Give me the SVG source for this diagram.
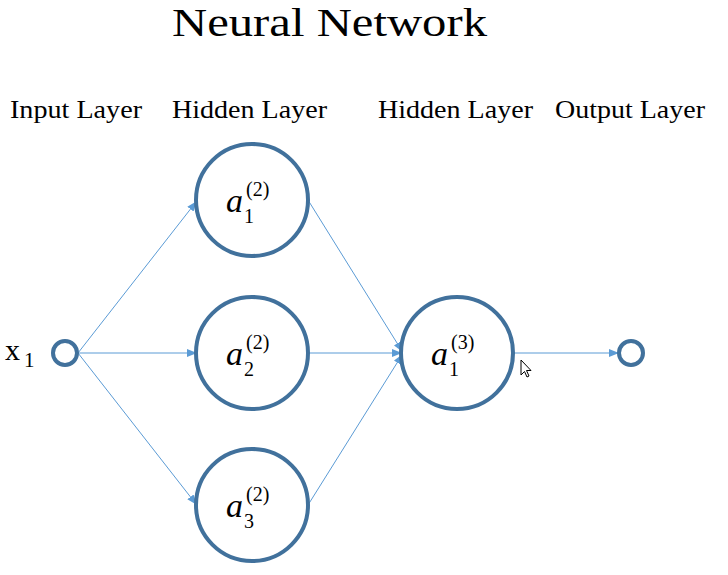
<svg xmlns="http://www.w3.org/2000/svg" width="728" height="575" viewBox="0 0 728 575">
<style>
.t{font-family:"Liberation Serif","DejaVu Serif",serif;fill:#000}
.node{fill:#fff;stroke:#41719C;stroke-width:4}
.small{fill:#fff;stroke:#41719C;stroke-width:4}
.conn line{stroke:#5B9BD5;stroke-width:1}
.m{font-family:"Liberation Serif","DejaVu Serif",serif;fill:#000}
.a{font-size:34px;font-style:italic}
.s{font-size:20px}
</style>
<defs>
<marker id="ah" markerWidth="10" markerHeight="8" refX="9" refY="4" orient="auto" markerUnits="userSpaceOnUse">
<path d="M0,0 L10,4 L0,8 Z" fill="#5B9BD5"/>
</marker>
</defs>
<rect width="728" height="575" fill="#fff"/>
<text class="t" x="172" y="36" font-size="39" textLength="315" lengthAdjust="spacingAndGlyphs">Neural Network</text>
<text class="t" x="10" y="118" font-size="25" textLength="132" lengthAdjust="spacingAndGlyphs">Input Layer</text>
<text class="t" x="172" y="118" font-size="25" textLength="155" lengthAdjust="spacingAndGlyphs">Hidden Layer</text>
<text class="t" x="378" y="118" font-size="25" textLength="155" lengthAdjust="spacingAndGlyphs">Hidden Layer</text>
<text class="t" x="555" y="118" font-size="25" textLength="150" lengthAdjust="spacingAndGlyphs">Output Layer</text>
<g class="conn">
<line x1="78" y1="353" x2="196" y2="202" marker-end="url(#ah)"/>
<line x1="78" y1="353" x2="196" y2="353" marker-end="url(#ah)"/>
<line x1="78" y1="353" x2="196" y2="504" marker-end="url(#ah)"/>
<line x1="308" y1="200" x2="402" y2="351" marker-end="url(#ah)"/>
<line x1="308" y1="353" x2="401" y2="353" marker-end="url(#ah)"/>
<line x1="308" y1="505" x2="402" y2="355" marker-end="url(#ah)"/>
<line x1="513" y1="353" x2="618" y2="353" marker-end="url(#ah)"/>
</g>
<g id="input">
<circle class="small" cx="65" cy="353" r="12"/>
<text class="t" x="5" y="360" font-size="30">x</text>
<text class="t" x="24" y="367" font-size="21">1</text>
</g>
<g id="h1">
<circle class="node" cx="252" cy="200" r="56"/>
<text class="m a" x="226" y="212">a</text>
<text class="m s" x="244" y="223">1</text>
<text class="m s" x="246" y="196">(2)</text>
</g>
<g id="h2">
<circle class="node" cx="252" cy="353" r="56"/>
<text class="m a" x="226" y="365">a</text>
<text class="m s" x="244" y="376">2</text>
<text class="m s" x="246" y="349">(2)</text>
</g>
<g id="h3">
<circle class="node" cx="252" cy="505" r="56"/>
<text class="m a" x="226" y="517">a</text>
<text class="m s" x="244" y="528">3</text>
<text class="m s" x="246" y="501">(2)</text>
</g>
<g id="o1">
<circle class="node" cx="457" cy="353" r="56"/>
<text class="m a" x="431" y="365">a</text>
<text class="m s" x="449" y="376">1</text>
<text class="m s" x="451" y="349">(3)</text>
</g>
<g id="output">
<circle class="small" cx="631" cy="353" r="12"/>
</g>
<path d="M521,360 L521,375 L524.5,371.5 L527,377 L529,376 L526.5,370.5 L531,370.5 Z" fill="#fff" stroke="#000" stroke-width="1"/>
</svg>
